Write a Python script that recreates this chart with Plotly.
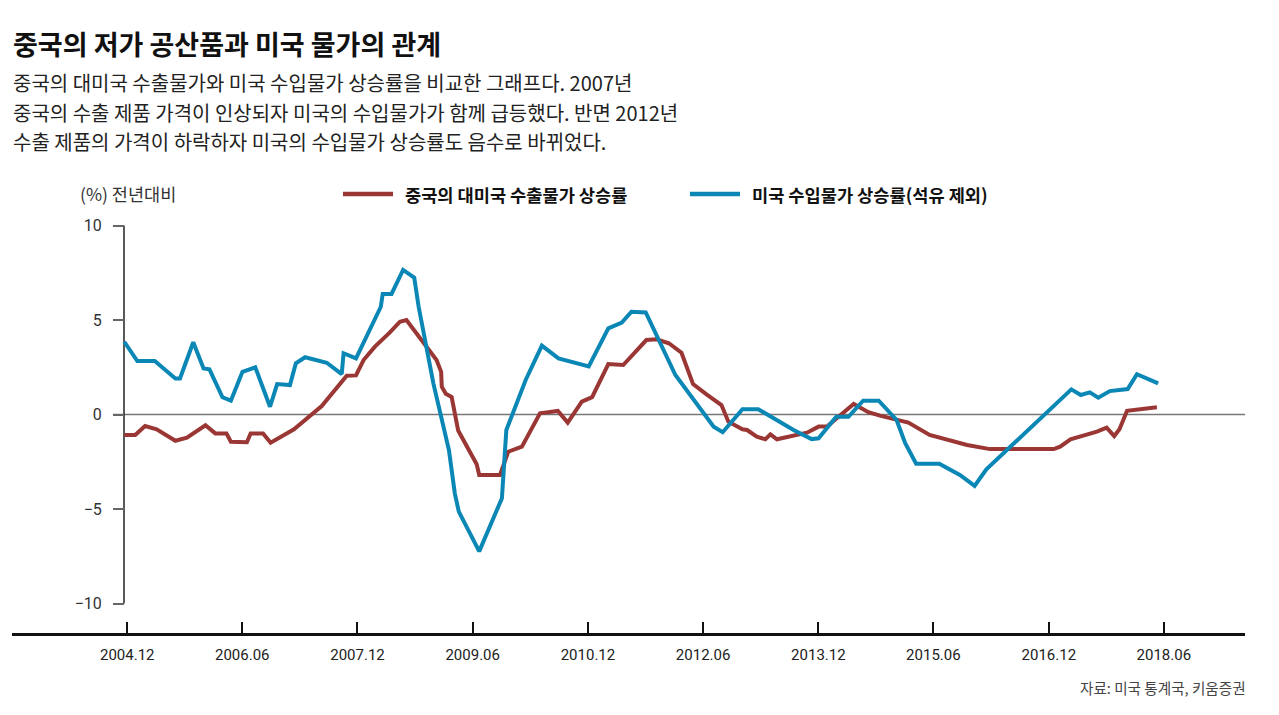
import plotly.graph_objects as go

# ---------------- data ----------------
china_dates = [
    "2004-12-01", "2005-01-22", "2005-03-10", "2005-05-04", "2005-08-01", "2005-09-25",
    "2005-12-22", "2006-02-07", "2006-04-01", "2006-04-22", "2006-07-07", "2006-07-25",
    "2006-09-22", "2006-10-28", "2007-02-16", "2007-06-28", "2007-10-25", "2007-12-08",
    "2008-01-13", "2008-03-07", "2008-05-16", "2008-07-04", "2008-08-04", "2008-10-10",
    "2008-12-25", "2009-01-16", "2009-01-19", "2009-02-07", "2009-03-07", "2009-04-07",
    "2009-07-04", "2009-07-16", "2009-10-23", "2009-12-01", "2010-02-04", "2010-05-01",
    "2010-07-25", "2010-09-10", "2010-11-16", "2011-01-04", "2011-03-22", "2011-06-01",
    "2011-09-19", "2011-11-07", "2012-01-04", "2012-03-04", "2012-04-28", "2012-07-01",
    "2012-09-10", "2012-10-13", "2012-11-16", "2012-12-19", "2013-01-10", "2013-02-25",
    "2013-04-07", "2013-05-01", "2013-06-01", "2013-08-19", "2013-10-22", "2013-12-16",
    "2014-01-25", "2014-06-01", "2014-08-10", "2014-10-04", "2015-02-16", "2015-05-28",
    "2015-11-22", "2016-03-10", "2017-01-07", "2017-02-07", "2017-03-28", "2017-08-01",
    "2017-09-16", "2017-10-22", "2017-11-16", "2017-12-22", "2018-05-13",
]
china_export_price = [
    -1.08, -1.08, -0.61, -0.78, -1.39, -1.23,
    -0.57, -1.00, -1.00, -1.44, -1.47, -1.00,
    -1.00, -1.49, -0.78, 0.45, 2.05, 2.07,
    2.88, 3.59, 4.33, 4.91, 5.00, 4.03,
    2.88, 2.26, 1.47, 1.10, 0.92, -0.85,
    -2.63, -3.20, -3.20, -1.97, -1.70, 0.06,
    0.19, -0.43, 0.68, 0.92, 2.67, 2.62,
    3.94, 3.98, 3.77, 3.27, 1.61, 1.07,
    0.50, -0.38, -0.56, -0.78, -0.82, -1.17,
    -1.31, -1.05, -1.31, -1.12, -0.96, -0.64,
    -0.64, 0.56, 0.12, -0.06, -0.43, -1.08,
    -1.61, -1.83, -1.83, -1.70, -1.31, -0.91,
    -0.70, -1.14, -0.78, 0.20, 0.38,
]

us_dates = [
    "2004-12-01", "2005-02-01", "2005-04-25", "2005-08-01", "2005-08-23", "2005-10-25",
    "2005-12-13", "2006-01-10", "2006-03-13", "2006-04-22", "2006-06-16", "2006-08-16",
    "2006-10-25", "2006-11-28", "2007-01-28", "2007-02-25", "2007-04-10", "2007-07-22",
    "2007-10-01", "2007-10-10", "2007-12-08", "2008-04-04", "2008-04-13", "2008-05-25",
    "2008-07-19", "2008-09-10", "2008-10-01", "2008-12-10", "2009-02-22", "2009-03-22",
    "2009-04-10", "2009-07-16", "2009-11-01", "2009-11-22", "2010-02-22", "2010-05-10",
    "2010-07-28", "2010-12-19", "2011-03-22", "2011-05-25", "2011-07-10", "2011-09-16",
    "2012-02-04", "2012-08-04", "2012-09-16", "2012-12-19", "2013-03-04", "2013-08-19",
    "2013-11-13", "2013-12-16", "2014-03-10", "2014-05-07", "2014-07-16", "2014-09-28",
    "2014-12-22", "2015-02-01", "2015-03-25", "2015-07-13", "2015-10-19", "2015-12-28",
    "2016-02-22", "2017-04-01", "2017-05-16", "2017-06-28", "2017-08-07", "2017-10-01",
    "2017-12-25", "2018-02-07", "2018-05-19",
]
us_import_price = [
    3.85, 2.83, 2.83, 1.91, 1.91, 3.82,
    2.44, 2.39, 0.91, 0.73, 2.26, 2.50,
    0.41, 1.61, 1.56, 2.71, 3.03, 2.74,
    2.14, 3.24, 2.97, 5.70, 6.38, 6.38,
    7.65, 7.24, 5.70, 1.65, -1.88, -4.17,
    -5.14, -7.24, -4.43, -0.82, 1.83, 3.64,
    2.97, 2.55, 4.56, 4.86, 5.44, 5.40,
    2.09, -0.65, -0.94, 0.28, 0.28, -0.82,
    -1.30, -1.26, -0.12, -0.12, 0.73, 0.73,
    -0.29, -1.52, -2.60, -2.60, -3.20, -3.78,
    -2.90, 1.33, 1.03, 1.17, 0.89, 1.24,
    1.35, 2.13, 1.65,
]

tick_dates = ["2004-12-15", "2006-06-15", "2007-12-15", "2009-06-15", "2010-12-15",
              "2012-06-15", "2013-12-15", "2015-06-15", "2016-12-15", "2018-06-15"]
tick_labels = ["2004.12", "2006.06", "2007.12", "2009.06", "2010.12",
               "2012.06", "2013.12", "2015.06", "2016.12", "2018.06"]
y_ticks = [-10, -5, 0, 5, 10]
y_tick_labels = ["−10", "−5", "0", "5", "10"]

series_names = ["중국의 대미국 수출물가 상승률", "미국 수입물가 상승률(석유 제외)"]
title_text = "중국의 저가 공산품과 미국 물가의 관계"
subtitle_lines = [
    "중국의 대미국 수출물가와 미국 수입물가 상승률을 비교한 그래프다. 2007년",
    "중국의 수출 제품 가격이 인상되자 미국의 수입물가가 함께 급등했다. 반면 2012년",
    "수출 제품의 가격이 하락하자 미국의 수입물가 상승률도 음수로 바뀌었다.",
]
unit_text = "(%) 전년대비"
source_text = "자료: 미국 통계국, 키움증권"

# ---------------- style ----------------
W, H = 1279, 715
OFF = 8  # page body margin of the html output
RED = "#9a3634"
BLUE = "#0b87b6"
KR = "Noto Sans CJK KR, Noto Sans, sans-serif"
NUM = "Roboto, Noto Sans, sans-serif"


def px(x):
    return (x - OFF) / W


def py(y):
    return 1 - (y - OFF) / H


fig = go.Figure()
fig.add_trace(go.Scatter(x=china_dates, y=china_export_price, mode="lines",
                         line=dict(color=RED, width=4), name=series_names[0],
                         showlegend=False))
fig.add_trace(go.Scatter(x=us_dates, y=us_import_price, mode="lines",
                         line=dict(color=BLUE, width=4), name=series_names[1],
                         showlegend=False))

fig.update_layout(
    width=W, height=H,
    margin=dict(l=0, r=0, t=0, b=0, autoexpand=False),
    paper_bgcolor="white", plot_bgcolor="white",
    xaxis=dict(
        type="date",
        domain=[px(12), px(1245)],
        range=["2003-06-16", "2019-07-06"],
        showgrid=False, zeroline=False,
        showline=True, linecolor="#111", linewidth=3,
        ticks="inside", ticklen=11, tickwidth=1.5, tickcolor="#111",
        tickvals=tick_dates, ticktext=tick_labels,
        tickfont=dict(family=NUM, size=15, color="#222"),
        ticklabelstandoff=6,
        fixedrange=True,
    ),
    yaxis=dict(
        domain=[py(633), py(215)],
        range=[-11.56, 10.556],
        anchor="free", position=px(124),
        showgrid=False, zeroline=False, showline=False,
        ticks="outside", ticklen=11, tickwidth=1.5, tickcolor="#666",
        tickvals=y_ticks, ticktext=y_tick_labels,
        tickfont=dict(family=NUM, size=16, color="#333"),
        ticklabelstandoff=8,
        fixedrange=True,
    ),
)

shapes = [
    # zero line
    dict(type="line", xref="paper", yref="y", x0=px(113), x1=px(1245), y0=0, y1=0,
         line=dict(color="#777", width=1.5), layer="below"),
    # vertical y axis line
    dict(type="line", xref="paper", yref="y", x0=px(124), x1=px(124), y0=-10, y1=10,
         line=dict(color="#222", width=1.5), layer="below"),
    # legend samples
    dict(type="line", xref="paper", yref="paper", x0=px(343), x1=px(393),
         y0=py(194), y1=py(194), line=dict(color=RED, width=4.5)),
    dict(type="line", xref="paper", yref="paper", x0=px(690), x1=px(740),
         y0=py(194), y1=py(194), line=dict(color=BLUE, width=4.5)),
]
fig.update_layout(shapes=shapes)

annotations = [
    dict(text=title_text, x=px(11), y=py(44), xref="paper", yref="paper",
         xanchor="left", yanchor="middle", showarrow=False,
         font=dict(family=KR, size=27, color="#111", weight="bold")),
    dict(text=unit_text, x=px(78), y=py(193), xref="paper", yref="paper",
         xanchor="left", yanchor="middle", showarrow=False,
         font=dict(family=KR, size=17.5, color="#333")),
    dict(text=series_names[0], x=px(403), y=py(194), xref="paper", yref="paper",
         xanchor="left", yanchor="middle", showarrow=False,
         font=dict(family=KR, size=17.6, color="#111", weight="bold")),
    dict(text=series_names[1], x=px(750), y=py(194), xref="paper", yref="paper",
         xanchor="left", yanchor="middle", showarrow=False,
         font=dict(family=KR, size=17.6, color="#111", weight="bold")),
    dict(text=source_text, x=px(1248), y=py(687), xref="paper", yref="paper",
         xanchor="right", yanchor="middle", showarrow=False,
         font=dict(family=KR, size=14.6, color="#444")),
]
for i, line in enumerate(subtitle_lines):
    annotations.append(dict(text=line, x=px(11), y=py(82 + 30 * i), xref="paper", yref="paper",
                            xanchor="left", yanchor="middle", showarrow=False,
                            font=dict(family=KR, size=20, color="#222")))
fig.update_layout(annotations=annotations)

fig.write_html("out.html")
